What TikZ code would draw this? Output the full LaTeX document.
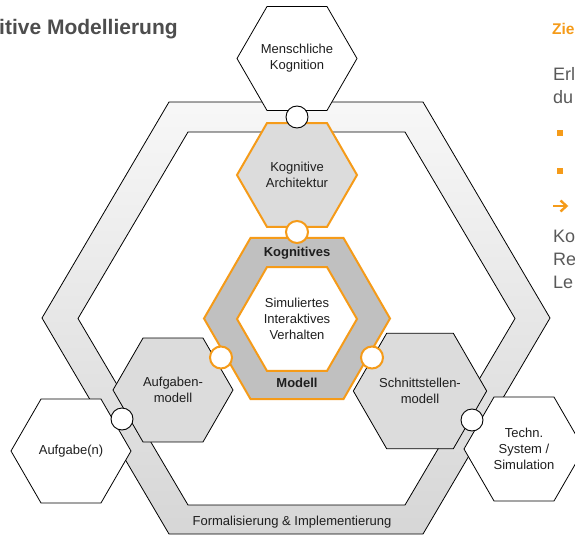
\documentclass[tikz,border=0pt]{standalone}
\usepackage{fontspec}
\setmainfont{Liberation Sans}
\usetikzlibrary{shapes.geometric}
\definecolor{accent}{RGB}{245,155,25}
\definecolor{txt}{RGB}{30,30,30}
\definecolor{boxgray}{RGB}{220,220,220}
\definecolor{coregray}{RGB}{192,192,192}
\definecolor{panel}{RGB}{89,89,89}
\definecolor{heading}{RGB}{77,77,77}
\begin{document}
\begin{tikzpicture}[x=1pt,y=-1pt,
  hexbox/.style={regular polygon, regular polygon sides=6, minimum size=120pt,
    inner sep=0pt, draw=black, line width=0.8pt, fill=white, text=txt, align=center,
    font=\fontsize{13}{16}\selectfont},
  shadedhex/.style={hexbox, fill=boxgray},
  corehex/.style={hexbox, fill=boxgray, draw=accent, line width=2pt},
  joint/.style={circle, minimum size=22pt, inner sep=0pt, fill=white, draw=black, line width=0.9pt},
  corejoint/.style={joint, draw=accent, line width=2pt},
  lbl/.style={text=txt, font=\fontsize{13}{16}\selectfont, align=center, inner sep=0pt},
  paneltext/.style={text=panel, font=\fontsize{18}{22}\selectfont, anchor=west, inner sep=0pt}]
\useasboundingbox (0,0) rectangle (575,535);

% outer ring: formalisation and implementation
\shade[top color=white!97!black, bottom color=white!84!black, even odd rule]
  (169,102) -- (423,102) -- (550,318) -- (423,534) -- (169,534) -- (42,318) -- cycle
  (188,132) -- (405,132) -- (515,318.5) -- (405,505) -- (188,505) -- (78,318.5) -- cycle;
\draw[line width=0.8pt]
  (169,102) -- (423,102) -- (550,318) -- (423,534) -- (169,534) -- (42,318) -- cycle
  (188,132) -- (405,132) -- (515,318.5) -- (405,505) -- (188,505) -- (78,318.5) -- cycle;
\node[lbl] (ringlabel) at (292,522) {Formalisierung \& Implementierung};

% outside world
\node[hexbox] (human) at (297,58.5) {Menschliche\\Kognition};
\node[hexbox] (task) at (71,451) {Aufgabe(n)};
\node[hexbox] (tech) at (524,449) {Techn.\\System /\\Simulation};

% model components
\node[corehex] (arch) at (297,175) {Kognitive\\Architektur};
\node[shadedhex] (taskmodel) at (173,390) {Aufgaben-\\modell};
\node[shadedhex] (ifmodel) at (420,391) {Schnittstellen-\\modell};

% cognitive model core
\node[corehex, minimum size=186pt, fill=coregray] (core) at (297,318.5) {};
\node[corehex, fill=white] (behaviour) at (297,319) {Simuliertes\\Interaktives\\Verhalten};
\node[lbl, font=\fontsize{13}{16}\selectfont\bfseries] (coretop) at (297,253) {Kognitives};
\node[lbl, font=\fontsize{13}{16}\selectfont\bfseries] (corebottom) at (297,383) {Modell};

% joints
\node[joint] (j1) at (297,117) {};
\node[corejoint] (j2) at (297,232) {};
\node[corejoint] (j3) at (221,357.5) {};
\node[corejoint] (j4) at (372,357.5) {};
\node[joint] (j5) at (122,419) {};
\node[joint] (j6) at (472,420) {};

% heading
\node[anchor=west, inner sep=0pt, text=heading, font=\fontsize{21}{24}\selectfont\bfseries] (title) at (-1,29) {itive Modellierung};

% side panel
\node[anchor=west, inner sep=0pt, text=accent, font=\fontsize{15.5}{19}\selectfont\bfseries] (goal) at (552,29) {Zie};
\node[paneltext] (p1) at (553,74) {Erl};
\node[paneltext] (p2) at (553,97) {du};
\fill[accent] (557,130) rectangle (563,136);
\fill[accent] (557,168) rectangle (563,174);
\draw[accent, line width=2.4pt] (553,206) -- (566,206);
\draw[accent, line width=2.4pt, line join=miter] (560.5,200.5) -- (566.5,206) -- (560.5,211.5);
\node[paneltext] (p3) at (553,236) {Ko};
\node[paneltext] (p4) at (553,259) {Re};
\node[paneltext] (p5) at (553,282) {Le};
\end{tikzpicture}
\end{document}
